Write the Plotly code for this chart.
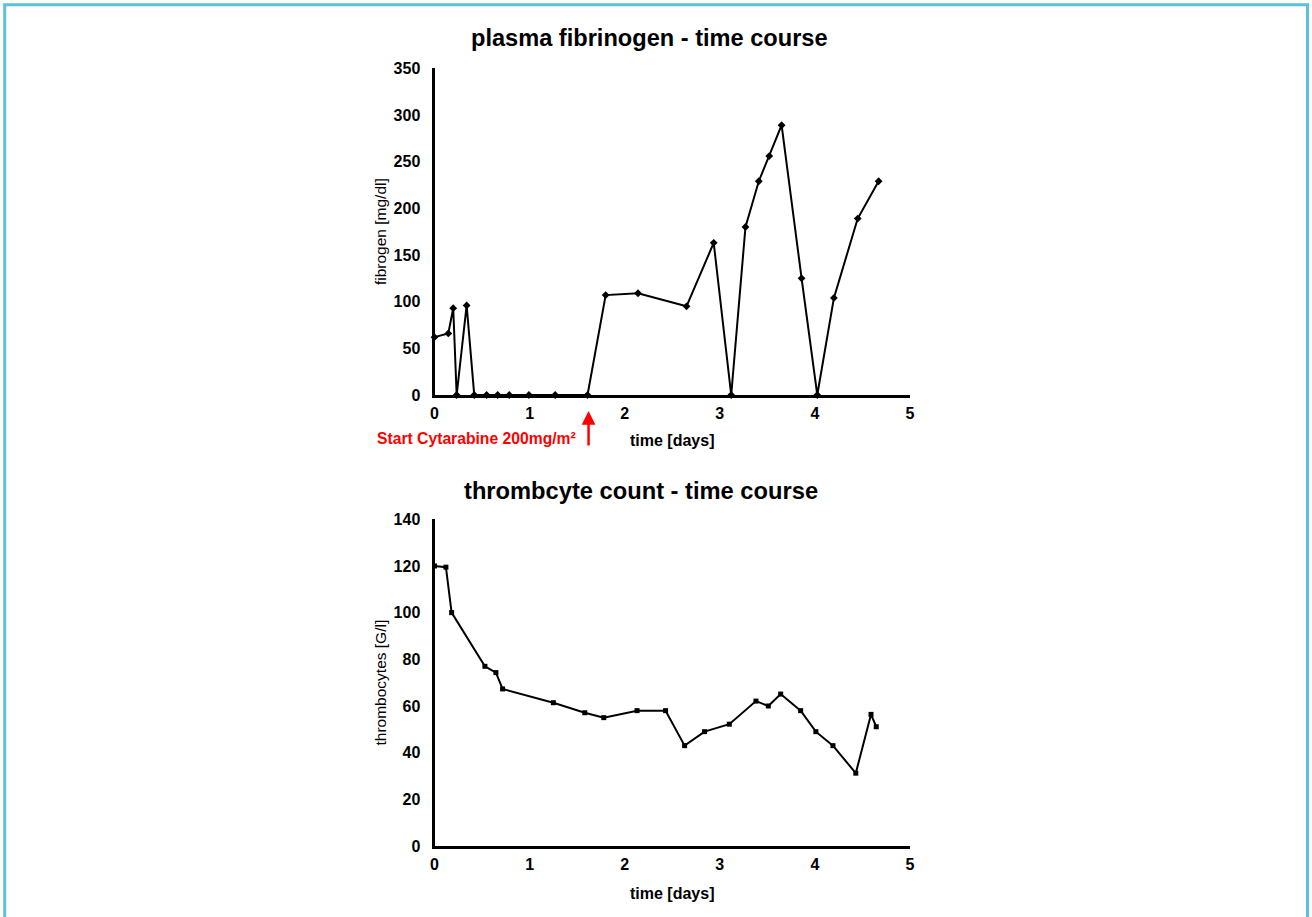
import plotly.graph_objects as go

# ---- data ----
fib_days = [0.0, 0.145, 0.197, 0.233, 0.338, 0.418, 0.548, 0.664, 0.786, 0.993,
            1.269, 1.609, 1.80, 2.14, 2.65, 2.936, 3.12, 3.27, 3.41, 3.52,
            3.65, 3.86, 4.025, 4.20, 4.45, 4.67]
fib_values = [62, 66, 93, 0, 96, 0, 0, 0, 0, 0,
              0, 0, 107, 109, 95, 163, 0, 180, 229, 256,
              289, 125, 0, 104, 189, 229]

thr_days = [0.0, 0.12, 0.18, 0.53, 0.646, 0.716, 1.25, 1.58, 1.78, 2.13,
            2.43, 2.63, 2.84, 3.10, 3.38, 3.51, 3.64, 3.85, 4.01, 4.19,
            4.43, 4.59, 4.645]
thr_values = [120, 119.5, 100, 77, 74.3, 67.3, 61.4, 57.1, 55, 58,
              58, 43, 49, 52.2, 62.1, 60, 65.1, 58, 49, 43,
              31.2, 56.4, 51.1]

x_ticks = [0, 1, 2, 3, 4, 5]
fib_ticks = [0, 50, 100, 150, 200, 250, 300, 350]
thr_ticks = [0, 20, 40, 60, 80, 100, 120, 140]

cytarabine_day = 1.62
cytarabine_label = "Start Cytarabine 200mg/m²"

W, H = 1312, 917
FONT = "Liberation Sans"

fig = go.Figure()
fig.add_trace(go.Scatter(
    x=fib_days, y=fib_values, mode="lines+markers", xaxis="x", yaxis="y",
    line=dict(color="black", width=2),
    marker=dict(symbol="diamond", size=6, color="black"),
    cliponaxis=False, showlegend=False))
fig.add_trace(go.Scatter(
    x=thr_days, y=thr_values, mode="lines+markers", xaxis="x2", yaxis="y2",
    line=dict(color="black", width=2),
    marker=dict(symbol="square", size=5, color="black"),
    cliponaxis=False, showlegend=False))

xdom = [434.5 / W, 910 / W]
top_dom = [1 - 395 / H, 1 - 68.3 / H]
bot_dom = [1 - 846 / H, 1 - 519.3 / H]

tickfont = dict(family=FONT, size=16, color="black", weight="bold")
common = dict(showline=True, linecolor="black", linewidth=3, showgrid=False,
              zeroline=False, ticks="", tickfont=tickfont, automargin=False)

fig.update_layout(
    width=W, height=H,
    margin=dict(l=0, r=0, t=0, b=0, pad=0, autoexpand=False),
    paper_bgcolor="white", plot_bgcolor="white",
    font=dict(family=FONT, color="black"),
    xaxis=dict(domain=xdom, range=[0, 5], tickvals=x_ticks, anchor="y",
               ticklabelstandoff=2,
               title=dict(text="<b>time [days]</b>", font=dict(size=16), standoff=14),
               **common),
    yaxis=dict(domain=top_dom, range=[0, 350], tickvals=fib_ticks, anchor="x",
               ticklabelstandoff=8,
               title=dict(text="fibrogen [mg/dl]", font=dict(size=15.5), standoff=4),
               **common),
    xaxis2=dict(domain=xdom, range=[0, 5], tickvals=x_ticks, anchor="y2",
                ticklabelstandoff=2,
                title=dict(text="<b>time [days]</b>", font=dict(size=16), standoff=16),
                **common),
    yaxis2=dict(domain=bot_dom, range=[0, 140], tickvals=thr_ticks, anchor="x2",
                ticklabelstandoff=8,
                title=dict(text="thrombocytes [G/l]", font=dict(size=15.5), standoff=4),
                **common),
)

fig.add_annotation(text="<b>plasma fibrinogen - time course</b>", xref="paper", yref="paper",
                   x=649 / W, y=1 - 38 / H, xanchor="center", yanchor="middle",
                   showarrow=False, font=dict(family=FONT, size=23.6, color="black"))
fig.add_annotation(text="<b>thrombcyte count - time course</b>", xref="paper", yref="paper",
                   x=641 / W, y=1 - 491 / H, xanchor="center", yanchor="middle",
                   showarrow=False, font=dict(family=FONT, size=23.7, color="black"))

# arrow marking cytarabine start
fig.add_annotation(x=cytarabine_day, y=1 - 411 / H, xref="x", yref="paper",
                   ax=0, ay=36, axref="pixel", ayref="pixel",
                   showarrow=True, arrowhead=2, arrowsize=1.1, arrowwidth=2.5,
                   arrowcolor="red", text="")
fig.add_annotation(x=578 / W, y=1 - 438 / H, xref="paper", yref="paper",
                   xanchor="right", yanchor="middle", showarrow=False,
                   text="<b>" + cytarabine_label + "</b>",
                   font=dict(family=FONT, size=15.7, color="red"))

# outer frame
fig.add_shape(type="rect", xref="paper", yref="paper",
              x0=4.7 / W, x1=1307.5 / W, y0=-0.02, y1=1 - 4.7 / H,
              line=dict(color="#5BC0DE", width=3), fillcolor="rgba(0,0,0,0)")

post = """
document.documentElement.style.margin='0';
document.body.style.margin='0';
document.body.style.overflow='hidden';
document.documentElement.style.overflow='hidden';
var gd = document.getElementById('{plot_id}');
gd.style.position='fixed'; gd.style.left='0px'; gd.style.top='0px';
"""

fig.write_html("out.html", config={"displayModeBar": False}, post_script=post)
